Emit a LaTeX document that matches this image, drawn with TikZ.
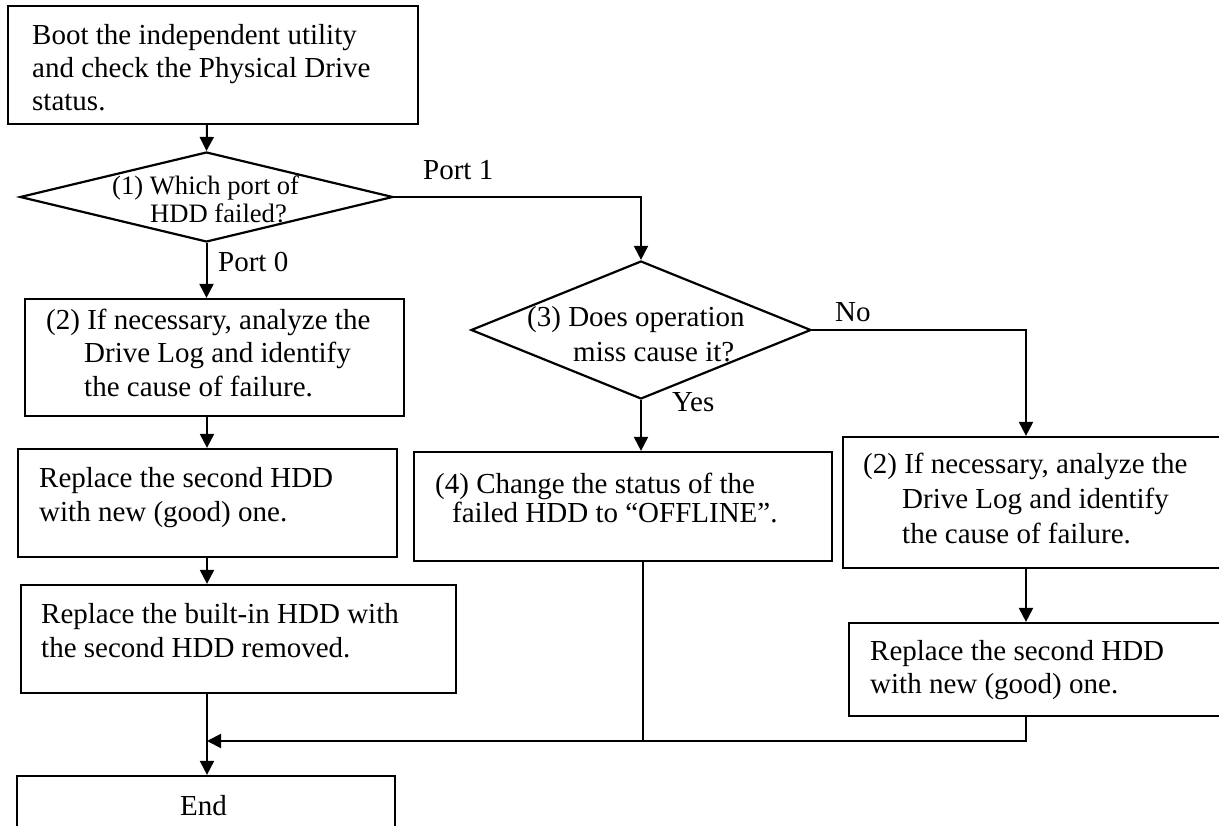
\documentclass[tikz,border=0pt]{standalone}
\usepackage{fontspec}
\setmainfont{Liberation Serif}
\usetikzlibrary{shapes.geometric,arrows.meta}
\tikzset{
  box/.style={draw, line width=2.2pt, rectangle, inner sep=0pt},
  dec/.style={draw, line width=2.2pt, diamond, inner sep=0pt},
  txt/.style={inner sep=0pt, anchor=base west, font=\fontsize{29pt}{33pt}\selectfont},
  stxt/.style={inner sep=0pt, anchor=base west, font=\fontsize{26.6pt}{30pt}\selectfont},
  conn/.style={line width=2pt},
  arr/.style={line width=2pt, -{Triangle[length=14pt,width=14pt]}}
}
\begin{document}
\begin{tikzpicture}[x=1pt,y=-1pt]
\clip (0,0) rectangle (1219,826);
\fill[white] (0,0) rectangle (1219,826);
% boxes
\node[box, minimum width=410pt, minimum height=118pt] (b1) at (213,65) {};
\node[dec, minimum width=373pt, minimum height=90pt] (d1) at (206.5,197) {};
\node[box, minimum width=379pt, minimum height=117pt] (b2) at (214.5,357.5) {};
\node[box, minimum width=379pt, minimum height=108pt] (b3) at (207.5,503) {};
\node[box, minimum width=435pt, minimum height=108pt] (b4) at (238.5,639) {};
\node[box, minimum width=378pt, minimum height=74pt] (bend) at (206,813) {};
\node[dec, minimum width=340pt, minimum height=138pt] (d3) at (641,330) {};
\node[box, minimum width=418pt, minimum height=109pt] (b5) at (623,506.5) {};
\node[box, minimum width=397pt, minimum height=131pt] (b6) at (1041.5,502.5) {};
\node[box, minimum width=391pt, minimum height=93pt] (b7) at (1044.5,669.5) {};
\coordinate (colL) at (207,0);
\coordinate (colR) at (1026,0);
\coordinate (colM) at (643,0);
\coordinate (mrg) at (0,741);
% texts
\node[txt] (t1a) at (32,45) {Boot the independent utility};
\node[txt] (t1b) at (32,78) {and check the Physical Drive};
\node[txt] (t1c) at (32,111) {status.};
\node[stxt] (td1a) at (112,195) {(1) Which port of};
\node[stxt] (td1b) at (150,223) {HDD failed?};
\node[txt] (t2a) at (46,330) {(2) If necessary, analyze the};
\node[txt] (t2b) at (84,363) {Drive Log and identify};
\node[txt] (t2c) at (84,397) {the cause of failure.};
\node[txt] (t3a) at (39,487) {Replace the second HDD};
\node[txt] (t3b) at (39,521) {with new (good) one.};
\node[txt] (t4a) at (41,623) {Replace the built-in HDD with};
\node[txt] (t4b) at (41,657) {the second HDD removed.};
\node[txt] (tend) at (180,815) {End};
\node[txt] (td3a) at (527,327) {(3) Does operation};
\node[txt] (td3b) at (573,362) {miss cause it?};
\node[txt] (t5a) at (435,493) {(4) Change the status of the};
\node[txt] (t5b) at (452,522) {failed HDD to “OFFLINE”.};
\node[txt] (t6a) at (863,473) {(2) If necessary, analyze the};
\node[txt] (t6b) at (902,508) {Drive Log and identify};
\node[txt] (t6c) at (902,543) {the cause of failure.};
\node[txt] (t7a) at (870,660) {Replace the second HDD};
\node[txt] (t7b) at (870,693) {with new (good) one.};
% labels
\node[txt] (lp1) at (423,180) {Port 1};
\node[txt] (lp0) at (218,272) {Port 0};
\node[txt] (lno) at (835,322) {No};
\node[txt] (lyes) at (672,412) {Yes};
% connectors
\draw[arr] (b1.south -| colL) -- (d1.north);
\draw[arr] (d1.east) -- (d1.east -| d3.north) -- (d3.north);
\draw[arr] (d1.south) -- (d1.south |- b2.north);
\draw[arr] (b2.south -| colL) -- (b3.north -| colL);
\draw[arr] (b3.south -| colL) -- (b4.north -| colL);
\draw[arr] (b4.south -| colL) -- (bend.north -| colL);
\draw[arr] (d3.south) -- (d3.south |- b5.north);
\draw[arr] (d3.east) -- (d3.east -| colR) -- (b6.north -| colR);
\draw[arr] (b6.south -| colR) -- (b7.north -| colR);
\draw[arr] (b7.south -| colR) -- (colR |- mrg) -- (colL |- mrg);
\draw[conn] (b5.south -| colM) -- (colM |- mrg);
\end{tikzpicture}
\end{document}
